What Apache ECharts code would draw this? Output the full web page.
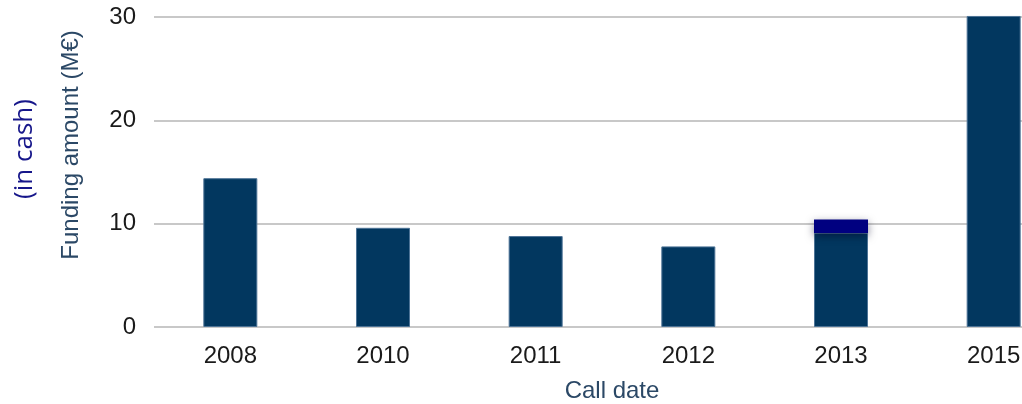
<!DOCTYPE html>
<html><head><meta charset="utf-8">
<script src="https://cdn.jsdelivr.net/npm/echarts@6/dist/echarts.min.js"></script>
<style>html,body{margin:0;padding:0;background:#fff;overflow:hidden}#c{width:1080px;height:404px}</style>
</head><body><div id="c"></div>
<script>
const categories = ['2008','2010','2011','2012','2013','2015'];
const funding = [14.4, 9.6, 8.8, 7.8, 9.1, 30.1];
const extra2013 = [null, null, null, null, 1.3, null];
const yTicks = [0, 10, 20, 30];

const chart = echarts.init(document.getElementById('c'));
chart.setOption({
  animation: false,
  grid: {left: 154, top: 17, right: 10, height: 310, outerBoundsMode: 'none', containLabel: false},
  xAxis: {
    type: 'category', data: categories,
    axisLine: {show: false}, axisTick: {show: false},
    axisLabel: {color: '#1a1a1a', fontFamily: 'Liberation Sans, Arial', fontSize: 24, margin: 17},
    name: 'Call date', nameLocation: 'middle', nameGap: 52,
    nameTextStyle: {color: '#2b4866', fontFamily: 'Liberation Sans, Arial', fontSize: 24}
  },
  yAxis: {
    type: 'value', min: yTicks[0], max: yTicks[yTicks.length-1], interval: 10,
    axisLine: {show: false}, axisTick: {show: false},
    splitLine: {lineStyle: {color: '#c8c8c8', width: 2}},
    axisLabel: {color: '#1a1a1a', fontFamily: 'Liberation Sans, Arial', fontSize: 24, margin: 18}
  },
  graphic: [
    {type: 'text', rotation: Math.PI/2, x: 71, y: 145,
     style: {text: 'Funding amount (M€)', fill: '#2b4866', font: '24px "Liberation Sans", Arial',
             align: 'center', verticalAlign: 'middle'}},
    {type: 'text', rotation: Math.PI/2, x: 25, y: 149,
     style: {text: '(in cash)', fill: '#16168a', font: '26px "Open Sans", sans-serif',
             align: 'center', verticalAlign: 'middle'}}
  ],
  series: [
    {type: 'bar', stack: 's', data: funding, barWidth: 54, clip: false,
     itemStyle: {color: '#02375f', borderColor: '#4d7396', borderWidth: 1}},
    {type: 'bar', stack: 's', data: extra2013, barWidth: 54,
     itemStyle: {color: '#000080', shadowColor: 'rgba(0,0,40,0.5)', shadowBlur: 8, shadowOffsetY: 3}}
  ]
});
</script></body></html>
